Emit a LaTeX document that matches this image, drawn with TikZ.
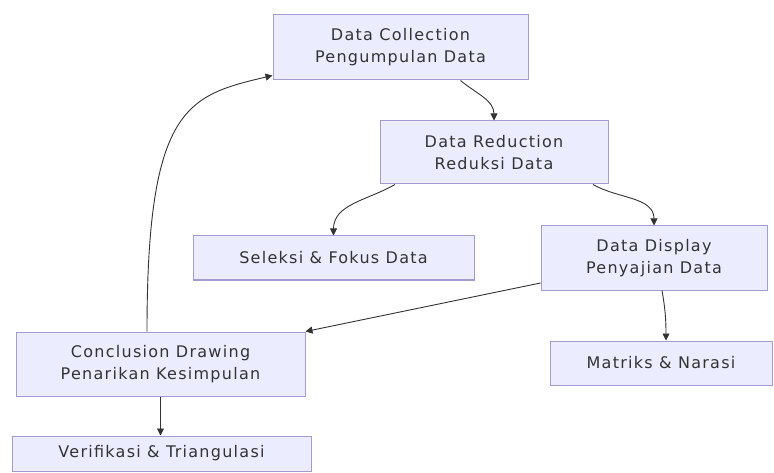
\documentclass[tikz,border=0pt]{standalone}
\usepackage{fontspec}
\setmainfont{DejaVu Sans}[LetterSpace=8]
\usepackage{xcolor}
\usetikzlibrary{arrows.meta,positioning}
\definecolor{boxfill}{HTML}{ECECFF}
\definecolor{boxline}{HTML}{A39BD2}
\definecolor{ink}{HTML}{333333}
\tikzset{
    stage/.style={rectangle, draw=boxline, fill=boxfill, line width=1pt, align=center, text=ink, font=\fontsize{16}{22}\selectfont, inner sep=0pt},
    flow/.style={-{Triangle[length=7pt,width=7pt]}, draw=ink, line width=0.9pt},
}

\begin{document}
\begin{tikzpicture}[x=1pt, y=1pt]
    \fill[white] (0,0) rectangle (774,-473);
    \useasboundingbox (0,0) rectangle (774,-473);

    \node[stage, minimum width=255pt, minimum height=65pt] (coll) at (400.5,-47.5) {Data Collection\\Pengumpulan Data};
    \node[stage, minimum width=228pt, minimum height=63pt] (red) at (494,-152.5) {Data Reduction\\Reduksi Data};
    \node[stage, minimum width=281pt, minimum height=44pt] (sel) at (333.5,-258) {Seleksi \& Fokus Data};
    \node[stage, minimum width=226pt, minimum height=64pt] (disp) at (654,-258) {Data Display\\Penyajian Data};
    \node[stage, minimum width=289pt, minimum height=64pt] (conc) at (160.5,-364) {Conclusion Drawing\\Penarikan Kesimpulan};
    \node[stage, minimum width=222pt, minimum height=44pt] (mat) at (661,-363) {Matriks \& Narasi};
    \node[stage, minimum width=299pt, minimum height=35pt] (ver) at (161.5,-453.5) {Verifikasi \& Triangulasi};

    \draw[flow] ([xshift=60pt]coll.south) to[out=-40, in=90] (red.north);
    \draw[flow] ([xshift=-99pt]red.south) to[out=210, in=90] (sel.north);
    \draw[flow] ([xshift=99pt]red.south) to[out=-30, in=90] (disp.north);
    \draw[flow] ([yshift=-25pt]disp.west) -- (conc.north east);
    \draw[flow] ([xshift=8pt]disp.south) to[out=-80, in=90] ([xshift=5pt]mat.north);
    \draw[flow] (conc.south) -- (ver.north -| conc.south);
    \draw[flow] ([xshift=-13.5pt]conc.north) .. controls +(0,225) and +(-85,-20) .. ([yshift=5pt]coll.south west);
\end{tikzpicture}
\end{document}
